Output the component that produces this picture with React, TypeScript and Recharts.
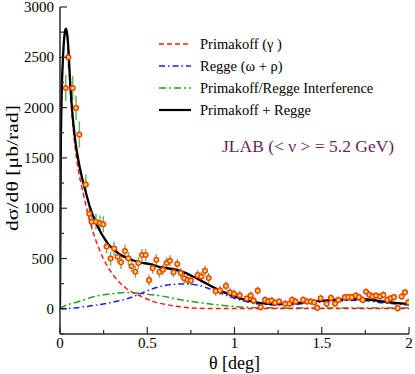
import React from 'react';
import { ComposedChart, Line, Scatter, ErrorBar, XAxis, YAxis, Legend } from 'recharts';

// Primakoff (gamma) curve
const primakoffTheta = [0, 0.002, 0.004, 0.008, 0.015, 0.022, 0.03, 0.035, 0.042, 0.05, 0.057, 0.065, 0.076, 0.09, 0.105, 0.12, 0.134, 0.155, 0.181, 0.21, 0.248, 0.306, 0.382, 0.458, 0.535, 0.611, 0.707, 0.8, 0.9, 1.0, 1.2, 1.4, 1.6, 1.8, 2.0];
const primakoffVal = [0, 690, 1440, 1985, 2400, 2625, 2740, 2755, 2685, 2485, 2240, 2020, 1780, 1560, 1380, 1250, 1140, 980, 810, 660, 500, 335, 200, 130, 72, 42, 17, 5, 3, 3, 3, 3, 3, 3, 3];

// Regge (omega + rho) curve
const reggeTheta = [0, 0.1, 0.19, 0.29, 0.382, 0.477, 0.516, 0.573, 0.63, 0.707, 0.8, 0.86, 0.955, 1.05, 1.165, 1.3, 1.45, 1.6, 1.72, 1.85, 2.0];
const reggeVal = [0, 12, 33, 62, 99, 162, 190, 222, 240, 248, 231, 198, 132, 80, 44, 38, 60, 79, 85, 60, 38];

// Primakoff/Regge interference curve
const interfTheta = [0, 0.02, 0.05, 0.096, 0.19, 0.287, 0.382, 0.477, 0.573, 0.707, 0.8, 0.898, 1.0, 1.05, 1.2, 1.4, 1.6, 1.8, 2.0];
const interfVal = [0, 25, 45, 66, 120, 148, 162, 150, 130, 85, 62, 40, 24, 17, 10, 8, 8, 8, 8];

// Primakoff + Regge total curve
const totalTheta = [0, 0.002, 0.004, 0.008, 0.015, 0.022, 0.03, 0.035, 0.042, 0.05, 0.057, 0.065, 0.076, 0.09, 0.105, 0.12, 0.143, 0.17, 0.21, 0.267, 0.344, 0.4, 0.458, 0.516, 0.573, 0.611, 0.7, 0.8, 0.9, 1.0, 1.07, 1.165, 1.23, 1.3, 1.37, 1.45, 1.53, 1.6, 1.66, 1.72, 1.79, 1.85, 1.92, 2.0];
const totalVal = [0, 700, 1450, 2000, 2420, 2650, 2770, 2785, 2720, 2530, 2290, 2080, 1850, 1640, 1480, 1350, 1190, 1020, 840, 665, 540, 495, 462, 445, 415, 405, 370, 288, 195, 125, 85, 55, 48, 50, 60, 73, 85, 92, 97, 98, 88, 73, 60, 50];

// JLAB data
const dataTheta = [0.033, 0.048, 0.073, 0.092, 0.111, 0.148, 0.168, 0.182, 0.206, 0.229, 0.248, 0.267, 0.29, 0.31, 0.33, 0.35, 0.372, 0.392, 0.41, 0.432, 0.449, 0.47, 0.491, 0.51, 0.531, 0.552, 0.57, 0.59, 0.611, 0.63, 0.65, 0.672, 0.692, 0.712, 0.732, 0.75, 0.789, 0.81, 0.831, 0.852, 0.892, 0.917, 0.951, 0.974, 0.997, 1.03, 1.07, 1.093, 1.11, 1.133, 1.15, 1.175, 1.194, 1.213, 1.232, 1.255, 1.29, 1.314, 1.33, 1.35, 1.394, 1.417, 1.437, 1.456, 1.474, 1.494, 1.528, 1.553, 1.576, 1.595, 1.633, 1.652, 1.672, 1.695, 1.713, 1.735, 1.754, 1.773, 1.792, 1.811, 1.834, 1.853, 1.876, 1.895, 1.914, 1.935, 1.958, 1.977, 1.996];
const dataVal = [2195, 2500, 2195, 1997, 1733, 1235, 945, 865, 865, 850, 840, 620, 500, 600, 518, 462, 574, 502, 423, 369, 455, 535, 535, 285, 405, 488, 365, 389, 455, 478, 363, 445, 356, 304, 287, 280, 335, 320, 379, 307, 175, 185, 228, 165, 149, 135, 102, 132, 83, 181, 17, 89, 76, 83, 60, 73, 50, 50, 89, 73, 89, 73, 73, 66, 10, 106, 50, 109, 50, 89, 116, 116, 116, 132, 116, 89, 170, 139, 122, 132, 122, 139, 89, 106, 116, 7, 122, 165, 66];
const dataErr = [130, 110, 120, 120, 130, 100, 85, 80, 80, 80, 80, 70, 70, 70, 65, 65, 65, 65, 60, 60, 60, 60, 60, 55, 55, 55, 55, 55, 55, 55, 50, 50, 50, 50, 50, 50, 50, 50, 50, 50, 45, 45, 45, 45, 45, 45, 40, 40, 40, 40, 35, 35, 35, 35, 35, 35, 35, 35, 35, 35, 35, 35, 35, 35, 35, 35, 35, 35, 35, 35, 35, 35, 35, 35, 35, 35, 35, 35, 35, 35, 35, 35, 35, 35, 35, 35, 35, 35, 35];

const xTicks = [0, 0.25, 0.5, 0.75, 1, 1.25, 1.5, 1.75, 2];
const xMajor = [0, 0.5, 1, 1.5, 2];
const yTicks = [-250, 0, 250, 500, 750, 1000, 1250, 1500, 1750, 2000, 2250, 2500, 2750, 3000];
const yMajor = [0, 500, 1000, 1500, 2000, 2500, 3000];

const legendLabels = ['Primakoff (\u03b3 )', 'Regge (\u03c9 + \u03c1)', 'Primakoff/Regge Interference', 'Primakoff + Regge'];
const annotation = 'JLAB (< \u03bd > = 5.2 GeV)';

const toPts = (xs: number[], ys: number[]) => xs.map((x, i) => ({ x, y: ys[i] }));
const primakoffData = toPts(primakoffTheta, primakoffVal);
const reggeData = toPts(reggeTheta, reggeVal);
const interfData = toPts(interfTheta, interfVal);
const totalData = toPts(totalTheta, totalVal);
const pointsData = dataTheta.map((x, i) => ({ x, y: dataVal[i], err: dataErr[i] }));

const FONT = '"Liberation Serif", "Times New Roman", serif';
const FRAME = '#2a2a2a';
const RED = '#ff1a1a';
const BLUE = '#1a1aff';
const GREEN = '#22a022';

const isMajorX = (v: number) => xMajor.some((m) => Math.abs(m - v) < 1e-9);
const isMajorY = (v: number) => yMajor.some((m) => Math.abs(m - v) < 1e-9);

const BottomTick = (p: any) => {
  const v = p.payload.value;
  const major = isMajorX(v);
  return (
    <g>
      <line x1={p.x} x2={p.x} y1={p.y} y2={p.y - (major ? 7 : 4)} stroke={FRAME} strokeWidth={1.2} />
      {major && (
        <text x={p.x} y={p.y + 14} textAnchor="middle" fontSize={15} fontFamily={FONT} fill="#000">
          {String(v)}
        </text>
      )}
    </g>
  );
};
const TopTick = (p: any) => {
  const major = isMajorX(p.payload.value);
  return <line x1={p.x} x2={p.x} y1={p.y} y2={p.y + (major ? 7 : 4)} stroke={FRAME} strokeWidth={1.2} />;
};
const LeftTick = (p: any) => {
  const v = p.payload.value;
  const major = isMajorY(v);
  return (
    <g>
      <line x1={p.x} x2={p.x + (major ? 7 : 4)} y1={p.y} y2={p.y} stroke={FRAME} strokeWidth={1.2} />
      {major && (
        <text x={p.x - 6} y={p.y + 5} textAnchor="end" fontSize={15} fontFamily={FONT} fill="#000">
          {String(v)}
        </text>
      )}
    </g>
  );
};
const RightTick = (p: any) => {
  const major = isMajorY(p.payload.value);
  return <line x1={p.x} x2={p.x - (major ? 7 : 4)} y1={p.y} y2={p.y} stroke={FRAME} strokeWidth={1.2} />;
};

const PointShape = (p: any) => (
  <circle cx={p.cx} cy={p.cy} r={2.3} fill="#ffee22" stroke="#ff3a1a" strokeWidth={1.5} />
);

const legendStyles = [
  { stroke: RED, dash: '5 3', w: 1.5 },
  { stroke: BLUE, dash: '6 3 1.5 3', w: 1.5 },
  { stroke: GREEN, dash: '7 3 2 3', w: 1.5 },
  { stroke: '#000', dash: undefined, w: 2.2 },
];

const LegendContent = () => (
  <svg width={265} height={135} style={{ display: 'block' }}>
    {legendLabels.map((lab, i) => {
      const y = 14 + i * 22;
      const s = legendStyles[i];
      return (
        <g key={lab}>
          <line x1={9} x2={41} y1={y} y2={y} stroke={s.stroke} strokeWidth={s.w} strokeDasharray={s.dash} />
          <text x={50} y={y + 5} fontSize={14.5} fontFamily={FONT} fill="#000">
            {lab}
          </text>
        </g>
      );
    })}
    <text x={72} y={122} fontSize={17.5} fontFamily={FONT} fill="#6b1f5e">
      {annotation}
    </text>
  </svg>
);

const YLabel = (props: any) => {
  const vb = props.viewBox;
  const cx = 12;
  const cy = 168;
  return (
    <text
      x={cx}
      y={cy}
      transform={`rotate(-90, ${cx}, ${cy})`}
      textAnchor="middle"
      dominantBaseline="central"
      fontSize={16.5}
      textLength={126}
      lengthAdjust="spacingAndGlyphs"
      fontFamily={FONT}
      fill="#000"
    >
      d{'\u03c3'}/d{'\u03b8'} [{'\u03bc'}b/rad]
    </text>
  );
};
const XLabel = (props: any) => {
  const vb = props.viewBox;
  return (
    <text x={vb.x + vb.width / 2} y={vb.y + 35} textAnchor="middle" fontSize={18} fontFamily={FONT} fill="#000">
      {'\u03b8'} [deg]
    </text>
  );
};

export default function App() {
  return (
    <div style={{ position: 'absolute', left: 0, top: 0 }}>
      <ComposedChart width={415} height={374} margin={{ top: 7, right: 6, bottom: 0, left: 0 }} style={{ fontFamily: FONT }}>
        <XAxis
          xAxisId={0}
          dataKey="x"
          type="number"
          domain={[0, 2]}
          ticks={xTicks}
          interval={0}
          height={40}
          tickSize={0}
          tickMargin={0}
          tickLine={false}
          tick={BottomTick}
          axisLine={{ stroke: FRAME, strokeWidth: 1.5 }}
          allowDataOverflow
          label={<XLabel />}
        />
        <XAxis
          xAxisId="top"
          orientation="top"
          dataKey="x"
          type="number"
          domain={[0, 2]}
          ticks={xTicks}
          interval={0}
          height={0}
          tickSize={0}
          tickMargin={0}
          tickLine={false}
          tick={TopTick}
          axisLine={{ stroke: FRAME, strokeWidth: 1.5 }}
          allowDataOverflow
        />
        <YAxis
          yAxisId={0}
          type="number"
          domain={[-250, 3000]}
          ticks={yTicks}
          interval={0}
          width={60}
          tickSize={0}
          tickMargin={0}
          tickLine={false}
          tick={LeftTick}
          axisLine={{ stroke: FRAME, strokeWidth: 1.5 }}
          allowDataOverflow
          label={<YLabel />}
        />
        <YAxis
          yAxisId="right"
          orientation="right"
          type="number"
          domain={[-250, 3000]}
          ticks={yTicks}
          interval={0}
          width={0}
          tickSize={0}
          tickMargin={0}
          tickLine={false}
          tick={RightTick}
          axisLine={{ stroke: FRAME, strokeWidth: 1.5 }}
          allowDataOverflow
        />
        <Legend
          layout="vertical"
          align="center"
          verticalAlign="middle"
          content={<LegendContent />}
          wrapperStyle={{ position: 'absolute', left: 150, top: 30, width: 265, height: 135 }}
        />
        <Scatter data={pointsData} dataKey="y" isAnimationActive={false} shape={PointShape} legendType="none">
          <ErrorBar dataKey="err" direction="y" width={0} stroke="#3fa83f" strokeOpacity={0.8} strokeWidth={1.5} />
        </Scatter>
        <Line data={interfData} dataKey="y" type="monotone" stroke={GREEN} strokeWidth={1.5} strokeDasharray="7 3 2 3" dot={false} isAnimationActive={false} />
        <Line data={reggeData} dataKey="y" type="monotone" stroke={BLUE} strokeWidth={1.5} strokeDasharray="6 3 1.5 3" dot={false} isAnimationActive={false} />
        <Line data={primakoffData} dataKey="y" type="monotone" stroke={RED} strokeWidth={1.5} strokeDasharray="5 3" dot={false} isAnimationActive={false} />
        <Line data={totalData} dataKey="y" type="monotone" stroke="#000" strokeWidth={2.3} dot={false} isAnimationActive={false} />
      </ComposedChart>
    </div>
  );
}
